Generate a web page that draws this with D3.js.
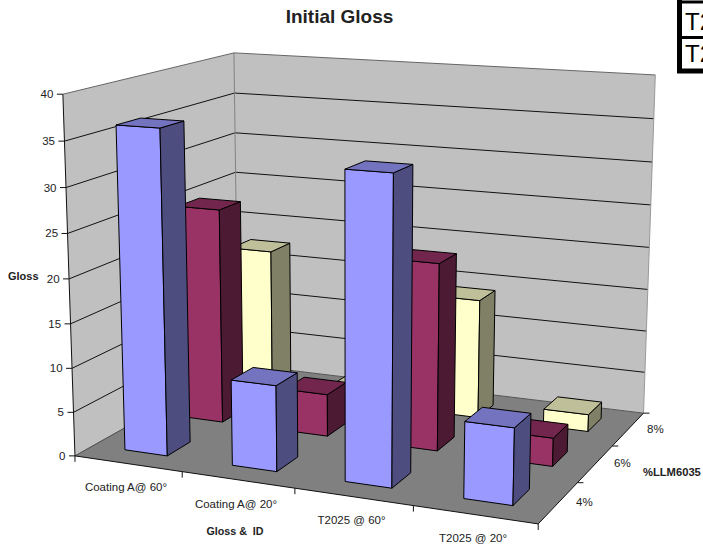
<!DOCTYPE html>
<html><head><meta charset="utf-8">
<script src="https://d3js.org/d3.v7.min.js"></script>
<style>html,body{margin:0;padding:0;background:#fff}svg{display:block}text{font-family:"Liberation Sans",Arial,sans-serif;fill:#222;white-space:pre}</style>
</head><body><svg id="c" width="703" height="544"></svg>
<script>
const categories=["Coating A@ 60°","Coating A@ 20°","T2025 @ 60°","T2025 @ 20°"];
const depths=["4%","6%","8%"];
const values4=[36.4,9.6,33.5,8.3];
const values6=[25.1,4.9,21.3,3.2];
const values8=[17.5,1.8,14.1,2];
const yTicks=[0,5,10,15,20,25,30,35,40];
const tableRows=["T2","T2"];
const seriesValues=[values4,values6,values8];

const x=d3.scaleBand().domain(categories).range([0,1]);
const z=d3.scaleBand().domain(depths).range([0,1]);
const y=d3.scaleLinear().domain([0,40]).range([0,1]);

// camera calibration: cube corners -> screen
const calib=[[0,0,0,76,456],[1,0,0,538,524],[1,1,0,644,413],[0,1,0,237,364],
 [0,0,1,62,94],[0,1,1,235,53],[1,1,1,655,75]];
function solveCamera(){
  const A=[],b=[];
  calib.forEach(([X,Z,Y,u,v])=>{
    A.push([X,Y,Z,1,0,0,0,0,-u*X,-u*Y,-u*Z]);b.push(u);
    A.push([0,0,0,0,X,Y,Z,1,-v*X,-v*Y,-v*Z]);b.push(v);
  });
  const n=11,M=d3.range(n).map(i=>d3.range(n+1).map(j=>{
    let s=0;A.forEach((r,k)=>{s+=r[i]*(j<n?r[j]:b[k]);});return s;}));
  for(let i=0;i<n;i++){
    let p=i;for(let r=i+1;r<n;r++)if(Math.abs(M[r][i])>Math.abs(M[p][i]))p=r;
    [M[i],M[p]]=[M[p],M[i]];
    for(let r=0;r<n;r++)if(r!==i){const f=M[r][i]/M[i][i];for(let c=i;c<=n;c++)M[r][c]-=f*M[i][c];}
  }
  return M.map((r,i)=>r[n]/r[i]);
}
const P=solveCamera();
function proj(X,Y,Z){
  const w=P[8]*X+P[9]*Y+P[10]*Z+1;
  return [(P[0]*X+P[1]*Y+P[2]*Z+P[3])/w,(P[4]*X+P[5]*Y+P[6]*Z+P[7])/w];
}
const svg=d3.select("#c");
const line=d3.line();
function poly(pts,fill,stroke,sw){
  svg.append("path").attr("d",line(pts)+"Z").attr("fill",fill).attr("stroke",stroke||"none").attr("stroke-width",sw||1).attr("stroke-linejoin","round");
}
function seg(a,b,stroke,sw){
  svg.append("path").attr("d",line([a,b])).attr("fill","none").attr("stroke",stroke).attr("stroke-width",sw||1);
}
function label(t,px,py,anchor,size,bold){
  svg.append("text").attr("x",px).attr("y",py).attr("text-anchor",anchor).attr("font-size",size).attr("font-weight",bold?"bold":"normal").text(t);
}
// walls and floor
poly([proj(0,0,0),proj(0,1,0),proj(0,1,1),proj(0,0,1)],"#c0c0c0");
poly([proj(0,0,1),proj(0,1,1),proj(1,1,1),proj(1,0,1)],"#c0c0c0");
poly([proj(0,0,0),proj(1,0,0),proj(1,0,1),proj(0,0,1)],"#808080");
// gridlines
yTicks.filter(t=>t>0&&t<40).forEach(t=>{
  const v=y(t);
  seg(proj(0,v,0),proj(0,v,1),"#111");seg(proj(0,v,1),proj(1,v,1),"#111");
});
// wall edges
seg(proj(0,0,1),proj(0,1,1),"#808080");
seg(proj(0,1,0),proj(0,1,1),"#666");
seg(proj(0,1,1),proj(1,1,1),"#666");
seg(proj(1,1,1),proj(1,0,1),"#999");
seg(proj(0,0,0),proj(0,0,1),"#444");
seg(proj(0,0,1),proj(1,0,1),"#555");
// axes
seg(proj(0,0,0),proj(0,1,0),"#111");
seg(proj(0,0,0),proj(1,0,0),"#111");
seg(proj(1,0,0),proj(1,0,1),"#111");
// y ticks
yTicks.forEach(t=>{
  const p=proj(0,y(t),0);
  seg([p[0]-6,p[1]],p,"#111");
  label(String(t),p[0]-9.5,p[1]+4,"end",11.5);
});
// x ticks
const xStep=x.step();
seg(proj(0,0,0),[proj(0,0,0)[0],proj(0,0,0)[1]+6],"#111");
const xLabelAt=[[126,491],[236,508],[351.5,524],[473,542]];
categories.forEach((c,i)=>{
  const p=proj((i+1)*xStep,0,0);
  seg(p,[p[0],p[1]+6],"#111");
  label(c,xLabelAt[i][0],xLabelAt[i][1],"middle",11.5);
});
// z ticks
const zLabelAt=[[576,506],[614,467],[647,433]];
depths.forEach((d,i)=>{
  const p=proj(1,0,(i+1)*z.step());
  seg(p,[p[0]+6,p[1]],"#111");
  label(d,zLabelAt[i][0],zLabelAt[i][1],"start",11.5);
});
const colors=[["#9999ff","#4d4d80","#7373bf"],["#993366","#4d1a33","#73264d"],["#ffffcc","#808066","#bfbf99"]];
// bars
const bw=0.4;
d3.range(depths.length-1,-1,-1).forEach(k=>{
  categories.forEach((c,i)=>{
    const x0=x(c)+x.bandwidth()*(1-bw)/2,x1=x0+x.bandwidth()*bw;
    const z0=z(depths[k])+z.bandwidth()*(1-bw)/2,z1=z0+z.bandwidth()*bw;
    const h=y(seriesValues[k][i]);
    const col=colors[k];
    poly([proj(x0,0,z0),proj(x1,0,z0),proj(x1,h,z0),proj(x0,h,z0)],col[0],"#000");
    poly([proj(x1,0,z0),proj(x1,0,z1),proj(x1,h,z1),proj(x1,h,z0)],col[1],"#000");
    poly([proj(x0,h,z0),proj(x1,h,z0),proj(x1,h,z1),proj(x0,h,z1)],col[2],"#000");
  });
});
// titles
label("Initial Gloss",339.5,23,"middle",19,true);
label("Gloss",8,280,"start",11,true);
label("Gloss &  ID",235,535,"middle",10.7,true);
label("%LLM6035",643,476,"start",11.2,true);
// table fragment
svg.append("rect").attr("x",679.5).attr("y",-4).attr("width",40).attr("height",75).attr("fill","#fff").attr("stroke","#000").attr("stroke-width",5);
svg.append("path").attr("d","M678,2H703M678,37.5H703").attr("stroke","#000").attr("stroke-width",3).attr("fill","none");
tableRows.forEach((t,i)=>{
  svg.append("text").attr("x",685).attr("y",30+i*32).attr("font-size",24).style("fill","#000").text(t);
});
</script></body></html>
